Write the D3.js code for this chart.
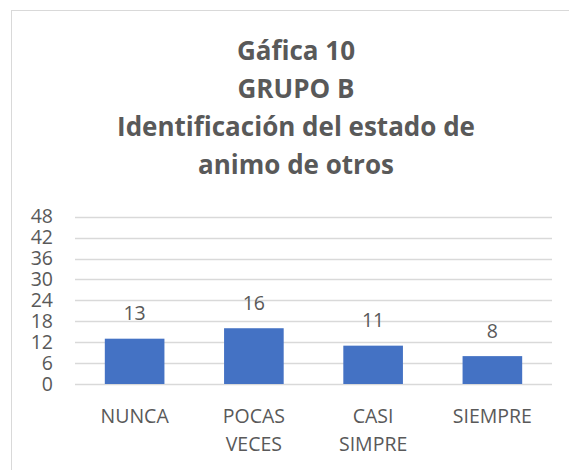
<!DOCTYPE html>
<html lang="es">
<head>
    <meta charset="UTF-8">
    <title>Gáfica 10 - GRUPO B</title>
    <script src="https://d3js.org/d3.v7.min.js"></script>
    <style>
        body { margin: 0; background: #fff; }
        text { font-family: "Open Sans", sans-serif; fill: #595959; }
    </style>
</head>
<body>

    <script>
        // Data
        const categories = [['NUNCA'], ['POCAS', 'VECES'], ['CASI', 'SIMPRE'], ['SIEMPRE']];
        const values = [13, 16, 11, 8];
        const yTicks = [0, 6, 12, 18, 24, 30, 36, 42, 48];
        const titleLines = ['Gáfica 10', 'GRUPO B', 'Identificación del estado de', 'animo de otros'];

        const W = 569, H = 470;
        const plot = { left: 75, right: 552, top: 216.7, bottom: 384 };

        const svg = d3.select('body')
            .append('svg')
            .attr('width', W)
            .attr('height', H);

        // chart border (runs off the right / bottom edge)
        svg.append('rect')
            .attr('x', 11.5)
            .attr('y', 10.5)
            .attr('width', 600)
            .attr('height', 500)
            .attr('fill', 'none')
            .attr('stroke', '#d9d9d9');

        // Title
        svg.append('g')
            .selectAll('text')
            .data(titleLines)
            .enter()
            .append('text')
            .attr('x', 296)
            .attr('y', (d, i) => 59.5 + i * 38.3)
            .attr('text-anchor', 'middle')
            .style('font-size', '26px')
            .style('font-weight', 'bold')
            .text(d => d);

        // Scales
        const x = d3.scaleBand()
            .domain(categories.map(d => d.join(' ')))
            .range([plot.left, plot.right])
            .paddingInner(0.5)
            .paddingOuter(0.25);

        const y = d3.scaleLinear()
            .domain([0, 48])
            .range([plot.bottom, plot.top]);

        // Gridlines
        svg.append('g')
            .selectAll('line')
            .data(yTicks)
            .enter()
            .append('line')
            .attr('x1', plot.left)
            .attr('x2', plot.right)
            .attr('y1', d => Math.round(y(d)) + 0.5)
            .attr('y2', d => Math.round(y(d)) + 0.5)
            .attr('stroke', '#d9d9d9')
            .attr('stroke-width', 1.3);

        // Y axis labels
        const yAxis = svg.append('g')
            .attr('transform', 'translate(53,0)')
            .call(d3.axisLeft(y).tickValues(yTicks).tickSize(0).tickPadding(0));
        yAxis.select('.domain').remove();
        yAxis.selectAll('text')
            .style('font-size', '19.5px')
            .style('fill', '#595959')
            .style('font-family', '"Open Sans", sans-serif');

        // Bars
        svg.append('g')
            .selectAll('rect')
            .data(values)
            .enter()
            .append('rect')
            .attr('x', (d, i) => x(categories[i].join(' ')))
            .attr('y', d => y(d))
            .attr('width', x.bandwidth())
            .attr('height', d => y(0) - y(d))
            .attr('fill', '#4472c4');

        // Data labels
        svg.append('g')
            .selectAll('text')
            .data(values)
            .enter()
            .append('text')
            .attr('x', (d, i) => x(categories[i].join(' ')) + x.bandwidth() / 2)
            .attr('y', d => y(d) - 18.5)
            .attr('text-anchor', 'middle')
            .style('font-size', '19.5px')
            .text(d => d);

        // Category labels
        const cat = svg.append('g')
            .selectAll('text')
            .data(categories)
            .enter()
            .append('text')
            .attr('text-anchor', 'middle')
            .style('font-size', '19.5px');
        cat.selectAll('tspan')
            .data(d => d)
            .enter()
            .append('tspan')
            .attr('x', function () {
                const parent = d3.select(this.parentNode).datum();
                return x(parent.join(' ')) + x.bandwidth() / 2;
            })
            .attr('y', (d, i) => 422.5 + i * 28.5)
            .text(d => d);
    </script>

</body>
</html>
